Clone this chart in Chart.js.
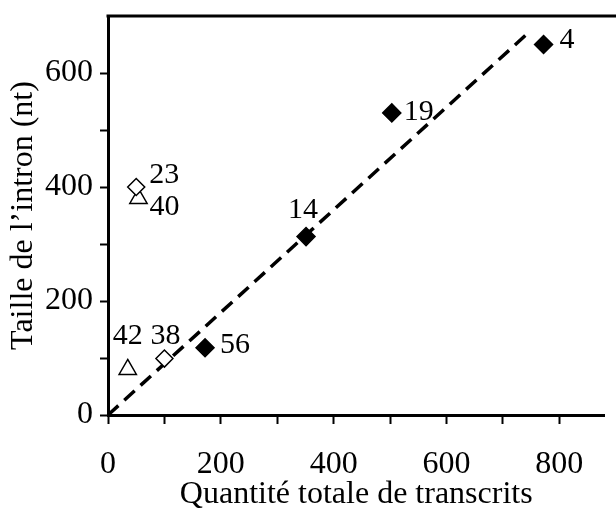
<!DOCTYPE html>
<html>
<head>
<meta charset="utf-8">
<script src="https://cdn.jsdelivr.net/npm/chart.js@4.4.0/dist/chart.umd.min.js"></script>
<style>
    body { margin: 0; background: #fff; }
</style>
</head>
<body>
<canvas id="scatter-chart" width="616" height="511"></canvas>
<script>
// valeurs
var noms = ['4', '19', '14', '56', '23', '38', '40', '42'];
var transcrits = [772, 503, 351, 172, 50, 100, 54, 35];
var tailleIntron = [650, 530, 313, 118, 400, 99, 380, 80];
var groupes = ['plein', 'plein', 'plein', 'plein', 'losange', 'losange', 'triangle', 'triangle'];
var droiteX = [0, 750];
var droiteY = [0, 675];
var xTickLabels = ['0', '200', '400', '600', '800'];
var yTickLabels = ['0', '200', '400', '600'];

// placement des numéros autour des points (style)
var placeNom = {
    '4':  { dx: 16, dy: -4,  align: 'left' },
    '19': { dx: 12, dy: -1,  align: 'left' },
    '14': { dx: -3, dy: -26, align: 'center' },
    '56': { dx: 15, dy: -3,  align: 'left' },
    '23': { dx: 13, dy: -12, align: 'left' },
    '38': { dx: 1,  dy: -22, align: 'center' },
    '40': { dx: 11, dy: 9,   align: 'left' },
    '42': { dx: 0,  dy: -33, align: 'center' }
};

function points(groupe) {
    var pts = [];
    for (var i = 0; i < noms.length; i++) {
        if (groupes[i] === groupe) {
            pts.push({ x: transcrits[i], y: tailleIntron[i], nom: noms[i] });
        }
    }
    return pts;
}

var droite = [];
for (var k = 0; k < droiteX.length; k++) {
    droite.push({ x: droiteX[k], y: droiteY[k] });
}

var etiquettes = {
    id: 'etiquettes',
    afterDatasetsDraw: function (chart) {
        var ctx = chart.ctx;
        ctx.save();
        ctx.fillStyle = '#000';
        ctx.font = '30px "Liberation Serif"';
        ctx.textBaseline = 'middle';
        chart.data.datasets.forEach(function (ds, i) {
            if (!ds.nommer) return;
            var meta = chart.getDatasetMeta(i);
            meta.data.forEach(function (el, j) {
                var nom = ds.data[j].nom;
                var p = placeNom[nom];
                ctx.textAlign = p.align;
                ctx.fillText(nom, el.x + p.dx, el.y + p.dy);
            });
        });
        ctx.restore();
    },
    afterDraw: function (chart) {
        // trait du haut du cadre
        var ctx = chart.ctx;
        var a = chart.chartArea;
        ctx.save();
        ctx.strokeStyle = '#000';
        ctx.lineWidth = 3;
        ctx.beginPath();
        ctx.moveTo(a.left - 1.5, a.top);
        ctx.lineTo(chart.width, a.top);
        ctx.stroke();
        ctx.restore();
    }
};

Chart.defaults.font.family = '"Liberation Serif", "Times New Roman", serif';
Chart.defaults.color = '#000';

var ctx = document.getElementById('scatter-chart');
var scatterChart = new Chart(ctx, {
    type: 'scatter',
    data: {
        datasets: [{
            data: points('plein'),
            nommer: true,
            pointStyle: 'rectRot',
            pointRadius: 9,
            borderWidth: 1.5,
            backgroundColor: '#000',
            borderColor: '#000'
        }, {
            data: points('losange'),
            nommer: true,
            pointStyle: 'rectRot',
            pointRadius: 8.5,
            borderWidth: 1.5,
            backgroundColor: '#fff',
            borderColor: '#000'
        }, {
            data: points('triangle'),
            nommer: true,
            pointStyle: 'triangle',
            pointRadius: 10,
            borderWidth: 1.5,
            backgroundColor: '#fff',
            borderColor: '#000'
        }, {
            data: droite,
            showLine: true,
            pointRadius: 0,
            borderColor: '#000',
            borderWidth: 3.5,
            borderDash: [14, 8]
        }]
    },
    options: {
        responsive: false,
        animation: false,
        events: [],
        layout: { padding: { top: 16, right: 0, left: 0, bottom: 0 } },
        plugins: { legend: { display: false }, tooltip: { enabled: false } },
        scales: {
            x: {
                type: 'linear',
                min: 0,
                max: 880,
                afterFit: function (s) {
                    s.height = 96;
                    s.paddingLeft = 0;
                    s.paddingRight = 0;
                },
                border: { color: '#000', width: 3 },
                grid: { drawOnChartArea: false, tickLength: 9, tickWidth: 2, tickColor: '#000' },
                ticks: {
                    stepSize: 100,
                    includeBounds: false,
                    autoSkip: false,
                    maxRotation: 0,
                    padding: 21,
                    font: { size: 32 },
                    callback: function (v) { return xTickLabels.indexOf(String(v)) >= 0 ? String(v) : ''; }
                },
                title: {
                    display: true,
                    text: 'Quantité totale de transcrits',
                    font: { size: 32, lineHeight: 1 },
                    padding: { top: 0, bottom: 0 }
                }
            },
            y: {
                type: 'linear',
                min: 0,
                max: 700,
                afterFit: function (s) {
                    s.width = 108;
                    s.paddingTop = 0;
                    s.paddingBottom = 0;
                },
                afterBuildTicks: function (s) {
                    s.ticks = s.ticks.filter(function (t) { return t.value <= 600; });
                },
                border: { color: '#000', width: 3 },
                grid: { drawOnChartArea: false, tickLength: 8, tickWidth: 2, tickColor: '#000' },
                ticks: {
                    stepSize: 100,
                    autoSkip: false,
                    padding: 7,
                    font: { size: 32 },
                    callback: function (v) { return yTickLabels.indexOf(String(v)) >= 0 ? String(v) : ''; }
                },
                title: {
                    display: true,
                    text: 'Taille de l’intron (nt)',
                    font: { size: 32, lineHeight: 1 },
                    padding: { top: 8, bottom: 0 }
                }
            }
        }
    },
    plugins: [etiquettes]
});
</script>
</body>
</html>
